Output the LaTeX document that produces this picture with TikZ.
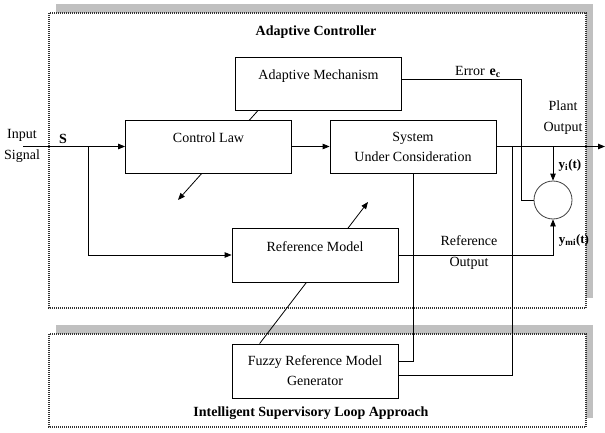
\documentclass[tikz,border=0pt]{standalone}
\usepackage{fontspec}
\setmainfont{Liberation Serif}
\usetikzlibrary{arrows.meta}
\pgfdeclarelayer{bg}
\pgfdeclarelayer{wires}
\pgfsetlayers{bg,wires,main}
\definecolor{shadowgray}{RGB}{192,192,192}
\begin{document}
\begin{tikzpicture}[x=1pt,y=-1pt,
  every node/.style={font=\fontsize{14}{20}\selectfont},
  blk/.style={draw, fill=white, line width=0.8pt, minimum width=166pt, inner xsep=0pt, inner ysep=0pt, align=center},
  upper/.style={text height=22.5pt, text depth=30.5pt},
  wire/.style={line width=0.8pt},
  arr/.style={wire, -{Triangle[length=7pt,width=5.5pt]}},
  frame/.style={fill=white, draw=black!80, line width=1.1pt, dash pattern=on 1pt off 1pt},
  shadow/.style={fill=shadowgray},
  ttl/.style={font=\fontsize{14}{17}\selectfont\bfseries},
  lbl/.style={font=\fontsize{14}{21}\selectfont, align=center, inner sep=0pt},
  sublbl/.style={font=\fontsize{13}{16}\selectfont\bfseries, inner sep=0pt},
]
\useasboundingbox (0,0) rectangle (605,433);

% blocks
\node[blk, upper] (am) at (318.5,83.5) {Adaptive Mechanism};
\node[blk, upper] (cl) at (208.5,146.5) {Control Law};
\node[blk, minimum height=53pt] (sys) at (413,146.5) {System\\Under Consideration};
\node[blk, text height=23.5pt, text depth=30.5pt] (rm) at (315,255) {Reference Model};
\node[blk, minimum height=54pt] (fz) at (315,371) {Fuzzy Reference Model\\Generator};
\node[draw=black!75, line width=0.8pt, circle, minimum size=38pt, inner sep=0pt] (circ) at (553,200) {};

% frames
\begin{pgfonlayer}{bg}
\fill[shadow] (56,4) rectangle (593,298);
\draw[frame] (49,13) rectangle (586,308);
\fill[shadow] (56,325) rectangle (593,418);
\draw[frame] (49,334) rectangle (586,427);
\end{pgfonlayer}

% labels
\node[ttl] (t1) at (316,32) {Adaptive Controller};
\node[ttl] (t2) at (311,413) {Intelligent Supervisory Loop Approach};
\node[lbl] (inl) at (22,145.5) {Input\\Signal};
\node[ttl] (s) at (63,139) {S};
\node[lbl] (err) at (478,72) {Error\hspace{5pt}\textbf{e\textsubscript{c}}};
\node[lbl] (po) at (563,117.5) {Plant\\Output};
\node[lbl] (ro) at (469,252.5) {Reference\\Output};
\node[sublbl] (yi) at (570,165) {y\textsubscript{i}(t)};
\node[sublbl] (ymi) at (574,240) {y\textsubscript{mi}(t)};

% connectors
\begin{pgfonlayer}{wires}
\coordinate (in) at (23,146.5);
\coordinate (br) at (88,146.5);
\coordinate (out) at (605,146.5);
\coordinate (tapy) at (553,146.5);
\coordinate (tapf) at (512,146.5);
\coordinate (ev) at (521,79);
\coordinate (adtip) at (178,200);
\coordinate (rmtip) at (368,202);
\draw[arr] (in) -- (cl.west);
\draw[arr] (br) |- (rm.west);
\draw[arr] (cl.east) -- (sys.west);
\draw[arr] (sys.east) -- (out);
\draw[wire] ([yshift=4.5pt]am.east) -- (ev) |- (circ.west);
\draw[arr] (tapy) -- (circ.north);
\draw[arr] (rm.east) -| (circ.south);
\draw[wire] (sys.south) |- ([yshift=10pt]fz.east);
\draw[wire] (tapf) |- ([yshift=-4pt]fz.east);
\draw[arr] ([xshift=23pt]am.south west) -- (adtip);
\draw[arr] ([xshift=28pt]fz.north west) -- (rmtip);
\end{pgfonlayer}
\end{tikzpicture}
\end{document}
